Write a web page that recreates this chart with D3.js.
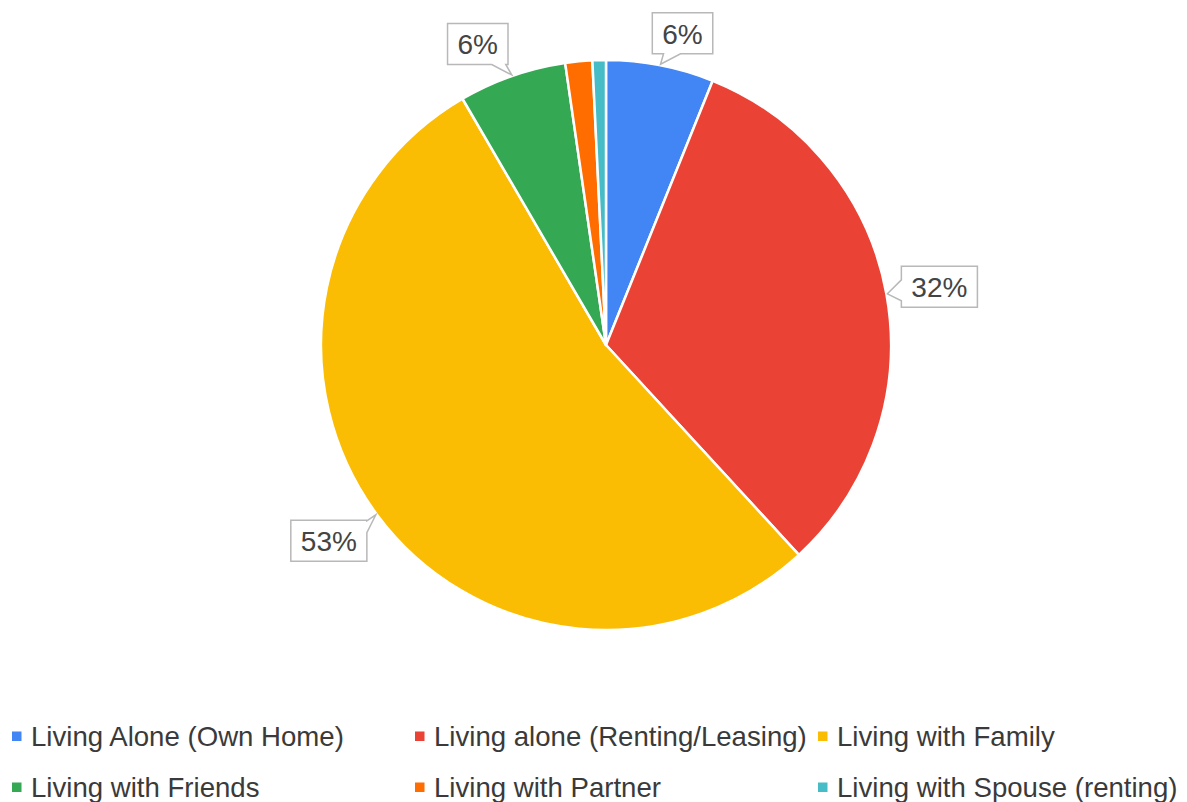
<!DOCTYPE html>
<html>
<head>
<meta charset="utf-8">
<script src="https://cdn.jsdelivr.net/npm/d3@7/dist/d3.min.js"></script>
<style>
  html, body { margin: 0; padding: 0; background: #fff; }
  svg { display: block; font-family: Arial, "Liberation Sans", sans-serif; }
</style>
</head>
<body>
<svg id="chart" width="1187" height="802"></svg>
<script>
// Household situation of respondents (counts)
const categories = [
  "Living Alone (Own Home)",
  "Living alone (Renting/Leasing)",
  "Living with Family",
  "Living with Friends",
  "Living with Partner",
  "Living with Spouse (renting)"
];
const counts = [8, 42, 70, 8, 2, 1];
const colors = ["#4285f4", "#ea4335", "#fbbc04", "#34a853", "#ff6d01", "#46bdc6"];

// Which slices get a callout label, and where the box sits relative to the slice tip
const calloutLayout = [
  { i: 0, dx: 22,  dy: -31, side: "bottom", a: 3,   b: 20 },
  { i: 1, dx: 52,  dy: -7,  side: "left",   a: -14, b: 7 },
  { i: 2, dx: -47, dy: 26,  side: "right",  a: 6,   b: 18 },
  { i: 3, dx: -34, dy: -31, side: "bottom", a: -20, b: -6 }
];

const svg = d3.select("#chart");
const cx = 606, cy = 345, radius = 285;

const total = d3.sum(counts);
const pct = d3.format(".0%");

const pie = d3.pie().sort(null).value(d => d)(counts);
const arc = d3.arc().innerRadius(0).outerRadius(radius);

const g = svg.append("g").attr("transform", `translate(${cx},${cy})`);

g.selectAll("path.slice")
  .data(pie)
  .join("path")
  .attr("class", "slice")
  .attr("d", arc)
  .attr("fill", (d, i) => colors[i])
  .attr("stroke", "#fff")
  .attr("stroke-width", 2.5)
  .attr("stroke-linejoin", "round");

// Callout labels
const fontSize = 28;
const padX = 10, boxH = 41;

function calloutPath(x0, y0, x1, y1, side, a, b, tx, ty) {
  // rectangle outline with a pointer notch on one side
  const p = d3.path();
  p.moveTo(x0, y0);
  if (side === "top") { p.lineTo(tx + a, y0); p.lineTo(tx, ty); p.lineTo(tx + b, y0); }
  p.lineTo(x1, y0);
  if (side === "right") { p.lineTo(x1, ty + a); p.lineTo(tx, ty); p.lineTo(x1, ty + b); }
  p.lineTo(x1, y1);
  if (side === "bottom") { p.lineTo(tx + b, y1); p.lineTo(tx, ty); p.lineTo(tx + a, y1); }
  p.lineTo(x0, y1);
  if (side === "left") { p.lineTo(x0, ty + b); p.lineTo(tx, ty); p.lineTo(x0, ty + a); }
  p.closePath();
  return p.toString();
}

const labels = svg.append("g").attr("class", "callouts");

calloutLayout.forEach(c => {
  const d = pie[c.i];
  const mid = (d.startAngle + d.endAngle) / 2;
  const tx = cx + (radius + 1) * Math.sin(mid);
  const ty = cy - (radius + 1) * Math.cos(mid);
  const text = pct(counts[c.i] / total);

  const grp = labels.append("g");
  const t = grp.append("text")
    .attr("font-size", fontSize)
    .attr("fill", "#444")
    .attr("text-anchor", "middle")
    .attr("dominant-baseline", "central")
    .text(text);
  const w = t.node().getComputedTextLength() + padX * 2;
  const bx = tx + c.dx, by = ty + c.dy;
  const x0 = bx - w / 2, x1 = bx + w / 2, y0 = by - boxH / 2, y1 = by + boxH / 2;

  grp.insert("path", "text")
    .attr("d", calloutPath(x0, y0, x1, y1, c.side, c.a, c.b, tx, ty))
    .attr("fill", "#fff")
    .attr("stroke", "#b8b8b8")
    .attr("stroke-width", 1.5);
  t.attr("x", bx).attr("y", by + 1);
});

// Legend: three columns, two rows
const colX = [12, 415, 818];
const rowY = [736, 787];
const legend = svg.append("g").attr("class", "legend");
const item = legend.selectAll("g.item")
  .data(categories)
  .join("g")
  .attr("class", "item")
  .attr("transform", (d, i) => `translate(${colX[i % 3]},${rowY[Math.floor(i / 3)]})`);

item.append("rect")
  .attr("x", 0).attr("y", -4.5)
  .attr("width", 9.5).attr("height", 9.5)
  .attr("fill", (d, i) => colors[i]);

item.append("text")
  .attr("x", 19)
  .attr("y", 9.5)
  .attr("font-size", 27.6)
  .attr("fill", "#3a3a3a")
  .text(d => d);
</script>
</body>
</html>
